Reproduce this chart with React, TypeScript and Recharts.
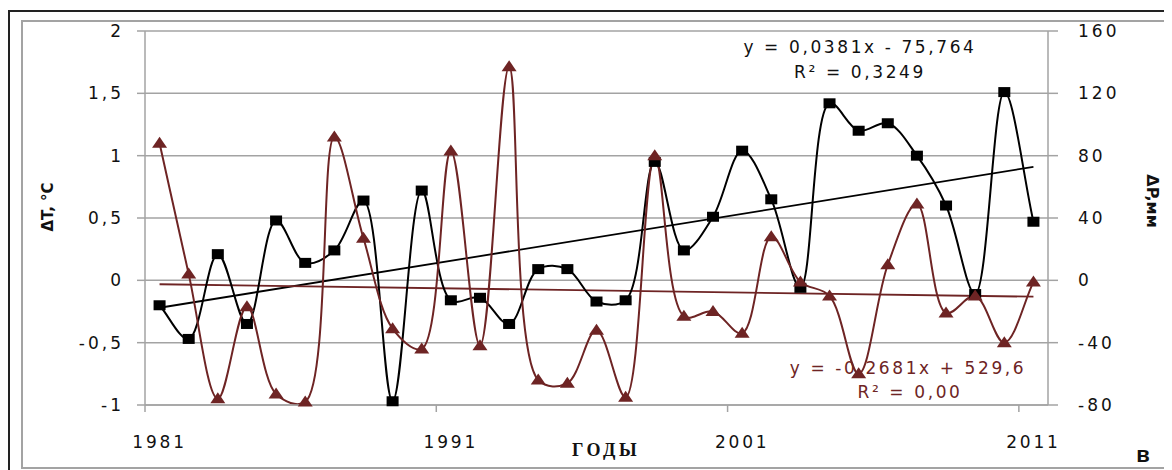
import React from 'react';
import { ComposedChart, Line, XAxis, YAxis, CartesianGrid } from 'recharts';

// years on the category axis
const years = [
  1981, 1982, 1983, 1984, 1985, 1986, 1987, 1988, 1989, 1990,
  1991, 1992, 1993, 1994, 1995, 1996, 1997, 1998, 1999, 2000,
  2001, 2002, 2003, 2004, 2005, 2006, 2007, 2008, 2009, 2010, 2011,
];

// temperature anomaly, °C (left axis)
const dT = [
  -0.2, -0.47, 0.21, -0.35, 0.48, 0.14, 0.24, 0.64, -0.97, 0.72,
  -0.16, -0.14, -0.35, 0.09, 0.09, -0.17, -0.16, 0.95, 0.24, 0.51,
  1.04, 0.65, -0.06, 1.42, 1.2, 1.26, 1.0, 0.6, -0.11, 1.51, 0.47,
];

// precipitation anomaly, mm (right axis)
const dP = [
  88, 4, -76, -17, -73, -78, 92, 27, -31, -44,
  83, -42, 137, -64, -66, -32, -75, 80, -23, -20,
  -34, 28, -1, -10, -60, 10, 49, -21, -10, -40, -1,
];

// linear trends (end points)
const trendYears = [1981, 2011];
const trendT = [-0.22, 0.91];
const trendP = [-2.5, -10.5];

const tTicks = [-1, -0.5, 0, 0.5, 1, 1.5, 2];
const pTicks = [-80, -40, 0, 40, 80, 120, 160];
const xLabels = [1981, 1991, 2001, 2011];

const BROWN = '#6e2424';
const GRID = '#a3a3a3';
const FONT = '"DejaVu Sans", Verdana, sans-serif';

const data = years.map((year, i) => ({ year, t: dT[i], p: dP[i] }));
const trendTData = trendYears.map((year, i) => ({ year, v: trendT[i] }));
const trendPData = trendYears.map((year, i) => ({ year, v: trendP[i] }));

const W = 1164;
const H = 462;
const LEFT_W = 137;
const RIGHT_W = 124;
const PLOT_W = W - LEFT_W - RIGHT_W;
const HALF_STEP = PLOT_W / years.length / 2;

// smoothing close to Excel's: centripetal Catmull-Rom as cubic beziers
const smooth = (context: any) => {
  let pts: number[][] = [];
  const dist = (a: number[], b: number[]) => Math.hypot(b[0] - a[0], b[1] - a[1]);
  return {
    areaStart() {},
    areaEnd() {},
    lineStart() {
      pts = [];
    },
    point(x: number, y: number) {
      pts.push([+x, +y]);
    },
    lineEnd() {
      const n = pts.length;
      if (!n) return;
      context.moveTo(pts[0][0], pts[0][1]);
      for (let i = 0; i < n - 1; i++) {
        const p0 = pts[Math.max(i - 1, 0)];
        const p1 = pts[i];
        const p2 = pts[i + 1];
        const p3 = pts[Math.min(i + 2, n - 1)];
        const l01 = Math.sqrt(dist(p0, p1));
        const l12 = Math.sqrt(dist(p1, p2));
        const l23 = Math.sqrt(dist(p2, p3));
        let c1 = [p1[0], p1[1]];
        let c2 = [p2[0], p2[1]];
        if (l01 > 1e-6) {
          const a = 2 * l01 * l01 + 3 * l01 * l12 + l12 * l12;
          const m = 3 * l01 * (l01 + l12);
          c1 = [
            (p1[0] * a - p0[0] * l12 * l12 + p2[0] * l01 * l01) / m,
            (p1[1] * a - p0[1] * l12 * l12 + p2[1] * l01 * l01) / m,
          ];
        } else {
          c1 = [p1[0] + (p2[0] - p1[0]) / 3, p1[1] + (p2[1] - p1[1]) / 3];
        }
        if (l23 > 1e-6) {
          const b = 2 * l23 * l23 + 3 * l23 * l12 + l12 * l12;
          const m = 3 * l23 * (l23 + l12);
          c2 = [
            (p2[0] * b + p1[0] * l23 * l23 - p3[0] * l12 * l12) / m,
            (p2[1] * b + p1[1] * l23 * l23 - p3[1] * l12 * l12) / m,
          ];
        } else {
          c2 = [p2[0] - (p2[0] - p1[0]) / 3, p2[1] - (p2[1] - p1[1]) / 3];
        }
        context.bezierCurveTo(c1[0], c1[1], c2[0], c2[1], p2[0], p2[1]);
      }
    },
  };
};

const fmt = (v: number) => String(v).replace('.', ',');

const SquareDot = (props: any) => {
  const { cx, cy, index } = props;
  if (cx == null || cy == null) return <g key={`s-${index}`} />;
  return <rect key={`s-${index}`} x={cx - 6} y={cy - 5} width={12} height={10} fill="#000" />;
};

const TriangleDot = (props: any) => {
  const { cx, cy, index } = props;
  if (cx == null || cy == null) return <g key={`t-${index}`} />;
  return (
    <polygon
      key={`t-${index}`}
      points={`${cx},${cy - 6.5} ${cx - 7.5},${cy + 4.5} ${cx + 7.5},${cy + 4.5}`}
      fill={BROWN}
    />
  );
};

const YearTick = (props: any) => {
  const { x, y, payload } = props;
  return (
    <g>
      <line x1={x - HALF_STEP} y1={y} x2={x - HALF_STEP} y2={y + 7} stroke={GRID} strokeWidth={1.5} />
      <text
        x={x}
        y={y + 43}
        textAnchor="middle"
        fontFamily={FONT}
        fontSize={17}
        letterSpacing={2.8}
        fill="#111"
      >
        {payload.value}
      </text>
    </g>
  );
};

const abs = (style: React.CSSProperties): React.CSSProperties => ({
  position: 'absolute',
  whiteSpace: 'nowrap',
  ...style,
});

export default function App() {
  const tickStyle = { fontFamily: FONT, fontSize: 17, fill: '#111', letterSpacing: 3 };
  const eq: React.CSSProperties = {
    fontFamily: FONT,
    fontSize: 17,
    letterSpacing: 2.6,
    transform: 'translate(-50%, -50%)',
    lineHeight: 1,
  };
  return (
    <div style={{ position: 'relative', width: W, height: H, background: '#fff' }}>
      {/* outer and inner frames */}
      <div style={abs({ left: 0, top: 2, width: W, height: 470, borderTop: '2px solid #222', borderLeft: '2px solid #222' })} />
      <div style={abs({ left: 13, top: 12, width: W - 13, height: 445, borderTop: `2px solid ${GRID}`, borderLeft: `2px solid ${GRID}`, borderBottom: `2px solid ${GRID}` })} />

      <div style={{ position: 'absolute', left: 0, top: 0 }}>
        <ComposedChart width={W} height={H} data={data} margin={{ top: 23, right: 0, bottom: 0, left: 0 }}>
          <CartesianGrid yAxisId="left" vertical={false} stroke={GRID} strokeWidth={1.5} />
          <XAxis
            dataKey="year"
            type="number"
            domain={[1980.5, 2011.5]}
            ticks={xLabels}
            allowDataOverflow
            height={65}
            tickSize={0}
            tickMargin={0}
            tickLine={false}
            axisLine={{ stroke: GRID, strokeWidth: 1.5 }}
            tick={<YearTick />}
            interval={0}
          />
          <YAxis
            yAxisId="left"
            orientation="left"
            width={LEFT_W}
            domain={[-1, 2]}
            ticks={tTicks}
            tickFormatter={fmt}
            tickSize={8}
            tickMargin={13}
            tickLine={{ stroke: GRID, strokeWidth: 1.5 }}
            axisLine={{ stroke: GRID, strokeWidth: 1.5 }}
            tick={tickStyle}
            interval={0}
          />
          <YAxis
            yAxisId="right"
            orientation="right"
            width={RIGHT_W}
            domain={[-80, 160]}
            ticks={pTicks}
            tickSize={10}
            tickMargin={20}
            tickLine={{ stroke: GRID, strokeWidth: 1.5 }}
            axisLine={{ stroke: GRID, strokeWidth: 1.5 }}
            tick={tickStyle}
            interval={0}
          />
          <Line
            yAxisId="left"
            data={trendTData}
            dataKey="v"
            stroke="#000"
            strokeWidth={1.8}
            dot={false}
            type="linear"
            isAnimationActive={false}
          />
          <Line
            yAxisId="right"
            data={trendPData}
            dataKey="v"
            stroke={BROWN}
            strokeWidth={1.8}
            dot={false}
            type="linear"
            isAnimationActive={false}
          />
          <Line
            yAxisId="left"
            dataKey="t"
            stroke="#000"
            strokeWidth={2}
            type={smooth as any}
            dot={SquareDot}
            activeDot={false}
            isAnimationActive={false}
          />
          <Line
            yAxisId="right"
            dataKey="p"
            stroke={BROWN}
            strokeWidth={2}
            type={smooth as any}
            dot={TriangleDot}
            activeDot={false}
            isAnimationActive={false}
          />
        </ComposedChart>
      </div>

      {/* axis titles */}
      <div style={abs({ left: 48 - 8, top: 207 - 8, fontFamily: FONT, fontWeight: 'bold', fontSize: 15, color: '#111', transform: 'translate(-50%, -50%) rotate(-90deg)', lineHeight: 1 })}>
        ΔT, °C
      </div>
      <div style={abs({ left: 1152 - 8, top: 201 - 8, fontFamily: FONT, fontWeight: 'bold', fontSize: 16, color: '#111', transform: 'translate(-50%, -50%) rotate(90deg)', lineHeight: 1 })}>
        ΔP,мм
      </div>
      <div style={abs({ left: 606 - 8, top: 450 - 8, fontFamily: '"Liberation Serif", serif', fontWeight: 'bold', fontSize: 18, letterSpacing: 3.5, color: '#111', transform: 'translate(-50%, -50%)', lineHeight: 1 })}>
        ГОДЫ
      </div>
      <div style={abs({ left: 1143 - 8, top: 455 - 8, fontFamily: '"Liberation Sans", Arial, sans-serif', fontWeight: 'bold', fontSize: 22, color: '#111', transform: 'translate(-50%, -50%)', lineHeight: 1 })}>
        в
      </div>

      {/* trend equations */}
      <div style={abs({ left: 860 - 8, top: 47 - 8, color: '#111', ...eq })}>y = 0,0381x - 75,764</div>
      <div style={abs({ left: 860 - 8, top: 72 - 8, color: '#111', ...eq })}>R² = 0,3249</div>
      <div style={abs({ left: 908 - 8, top: 368 - 8, color: BROWN, ...eq })}>y = -0,2681x + 529,6</div>
      <div style={abs({ left: 910 - 8, top: 392 - 8, color: BROWN, ...eq })}>R² = 0,00</div>
    </div>
  );
}
